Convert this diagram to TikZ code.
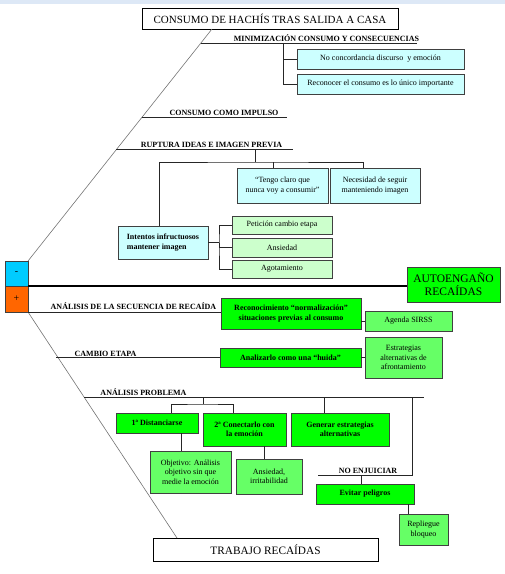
\documentclass[tikz,border=0pt]{standalone}
\usepackage{fontspec}
\setmainfont{Liberation Serif}
\usepackage{tikz}
\definecolor{paleblue}{RGB}{204,255,255}
\definecolor{palegreen}{RGB}{204,255,204}
\definecolor{midgreen}{RGB}{102,255,102}
\definecolor{brightgreen}{RGB}{0,255,0}
\definecolor{minusblue}{RGB}{0,204,255}
\definecolor{plusorange}{RGB}{255,102,0}
\definecolor{bandblue}{RGB}{221,232,246}
\usetikzlibrary{positioning, calc}
\tikzset{
    basebox/.style={draw=black!75, line width=0.8pt, align=center, inner sep=1pt, outer sep=0pt},
    titlebox/.style={basebox, draw=black, fill=white, font=\fontsize{11}{13}\selectfont},
    blbox/.style={basebox, fill=paleblue, font=\fontsize{8}{9.5}\selectfont},
    pgbox/.style={basebox, fill=palegreen, font=\fontsize{8}{9.5}\selectfont},
    mgbox/.style={basebox, fill=midgreen, font=\fontsize{8}{9.5}\selectfont},
    bgbox/.style={basebox, fill=brightgreen, font=\bfseries\fontsize{8}{9.5}\selectfont},
    signbox/.style={basebox, font=\fontsize{10}{11}\selectfont},
    hdlabel/.style={anchor=south, inner sep=1pt, font=\bfseries\fontsize{8}{9}\selectfont},
    spine/.style={draw=black!55, line width=0.6pt},
    branch/.style={draw=black!85, line width=0.75pt}
}

\begin{document}
\begin{tikzpicture}[x=1pt, y=-1pt]
  \useasboundingbox (0,0) rectangle (505,574);
  \fill[bandblue] (0,0) rectangle (505,4);

  % main boxes
  \node[titlebox, minimum width=256pt, minimum height=21pt] (title) at (270,18.5) {CONSUMO DE HACHÍS TRAS SALIDA A CASA};
  \node[titlebox, minimum width=225pt, minimum height=23pt, font=\fontsize{11.3}{13}\selectfont] (trabajo) at (265.5,549.5) {TRABAJO RECAÍDAS};
  \node[signbox, fill=minusblue, minimum width=23pt, minimum height=25pt] (minus) at (16.5,273.5) {-};
  \node[signbox, fill=plusorange, minimum width=23pt, minimum height=26pt] (plus) at (16.5,299) {+};
  \node[basebox, fill=brightgreen, minimum width=93pt, minimum height=35pt, font=\fontsize{11.5}{13}\selectfont] (autoeng) at (453.5,284.5) {AUTOENGAÑO\\RECAÍDAS};

  % upper side
  \node[blbox, minimum width=167pt, minimum height=20pt] (nocon) at (380.5,59) {No concordancia discurso~ y emoción};
  \node[blbox, minimum width=167pt, minimum height=20pt] (recon) at (380.5,84) {Reconocer el consumo es lo único importante};
  \node[blbox, minimum width=91pt, minimum height=35pt] (tengo) at (282.5,185.5) {“Tengo claro que\\nunca voy a consumir”};
  \node[blbox, minimum width=90pt, minimum height=35pt] (neces) at (375,185.5) {Necesidad de seguir\\manteniendo imagen};
  \node[blbox, minimum width=90pt, minimum height=33pt, align=left, font=\bfseries\fontsize{8}{9.5}\selectfont] (intentos) at (163,242.5) {Intentos infructuosos\\mantener imagen};
  \node[pgbox, minimum width=100pt, minimum height=18pt] (peticion) at (282,225) {Petición cambio etapa};
  \node[pgbox, minimum width=100pt, minimum height=19pt] (ansiedad) at (282,247.5) {Ansiedad};
  \node[pgbox, minimum width=100pt, minimum height=18pt] (agot) at (282,269) {Agotamiento};

  % lower side
  \node[bgbox, minimum width=140pt, minimum height=31pt] (reconoc) at (291,313.5) {Reconocimiento “normalización”\\situaciones previas al consumo};
  \node[mgbox, minimum width=87pt, minimum height=20pt] (agenda) at (408.5,321) {Agenda SIRSS};
  \node[bgbox, minimum width=141pt, minimum height=19pt] (analiz) at (290.5,357.5) {Analizarlo como una “huida”};
  \node[mgbox, minimum width=77pt, minimum height=41pt] (estrat) at (403.5,357.5) {Estrategias\\alternativas de\\afrontamiento};
  \node[bgbox, minimum width=82pt, minimum height=20pt] (dist) at (157,423) {1ª Distanciarse};
  \node[bgbox, minimum width=83pt, minimum height=33pt] (conect) at (244.5,429.5) {2ª Conectarlo con\\la emoción};
  \node[bgbox, minimum width=98pt, minimum height=33pt] (generar) at (340,429.5) {Generar estrategias\\alternativas};
  \node[mgbox, minimum width=81pt, minimum height=42pt] (objetivo) at (190.5,472) {Objetivo: Análisis\\objetivo sin que\\medie la emoción};
  \node[mgbox, minimum width=66pt, minimum height=35pt] (ansirr) at (269,476.5) {Ansiedad,\\irritabilidad};
  \node[bgbox, minimum width=98pt, minimum height=20pt] (evitar) at (365,494) {Evitar peligros};
  \node[mgbox, minimum width=49pt, minimum height=31pt] (repliegue) at (423.5,529.5) {Repliegue\\bloqueo};

  % spines
  \draw[spine] ([xshift=-58pt]title.south) -- (minus.north east);
  \draw[spine] (plus.south east) -- ([xshift=24pt]trabajo.north west);
  \draw[line width=1.5pt] (minus.south east) -- (minus.south east -| autoeng.west);

  % upper branches
  \coordinate (minL) at (200.8,43);
  \coordinate (minR) at (417,43);
  \coordinate (minfork) at (283,43);
  \draw[branch] (minL) -- (minR);
  \node[hdlabel] (minlbl) at (326.5,43) {MINIMIZACIÓN CONSUMO Y CONSECUENCIAS};
  \draw[branch] (minfork) |- (nocon.west);
  \draw[branch] (minfork) |- (recon.west);

  \coordinate (impL) at (141.8,117);
  \coordinate (impR) at (287,117);
  \draw[branch] (impL) -- (impR);
  \node[hdlabel] (implbl) at (224,117) {CONSUMO COMO IMPULSO};

  \coordinate (rupL) at (116,149);
  \coordinate (rupR) at (293,149);
  \coordinate (rupfork) at (255,149);
  \coordinate (rupbar) at (255,162);
  \draw[branch] (rupL) -- (rupR);
  \node[hdlabel] (ruplbl) at (211.5,149) {RUPTURA IDEAS E IMAGEN PREVIA};
  \draw[branch] (rupfork) -- (rupbar);
  \draw[branch] ([xshift=-4pt]intentos.north) |- (rupbar) -| ([xshift=-12pt]neces.north);
  \draw[branch] ([xshift=-9.5pt]tengo.north) -- ([xshift=-9.5pt]tengo.north |- rupbar);

  \coordinate (intbar) at (219,242.5);
  \draw[branch] (intentos.east) -- (intbar);
  \draw[branch] (peticion.west) -| (intbar) |- (agot.west);
  \draw[branch] (intbar) |- (ansiedad.west);

  % lower branches
  \draw[branch] (plus.south east) -- (plus.south east -| reconoc.west);
  \node[hdlabel] (seclbl) at (133.5,311) {ANÁLISIS DE LA SECUENCIA DE RECAÍDA};
  \draw[branch] (agenda.west -| reconoc.east) -- (agenda.west);

  \coordinate (camL) at (56,357.5);
  \draw[branch] (camL) -- (analiz.west);
  \node[hdlabel] (camlbl) at (105.5,357.5) {CAMBIO ETAPA};
  \draw[branch] (analiz.east) -- (estrat.west);

  \coordinate (probL) at (84,397);
  \coordinate (probR) at (424,397);
  \coordinate (probfork) at (203,397);
  \coordinate (probbar) at (203,404);
  \draw[branch] (probL) -- (probR);
  \node[hdlabel] (problbl) at (143.5,397) {ANÁLISIS PROBLEMA};
  \draw[branch] (probfork) -- (probbar);
  \draw[branch] ([xshift=14pt]dist.north) |- (probbar) -| ([xshift=-11.5pt]conect.north);
  \draw[branch] ([xshift=-16pt]generar.north) -- ([xshift=-16pt]generar.north |- probL);
  \draw[branch] ([xshift=-9.5pt]objetivo.north) -- ([xshift=-9.5pt]objetivo.north |- dist.south);
  \draw[branch] ([xshift=-5pt]ansirr.north) -- ([xshift=-5pt]ansirr.north |- conect.south);

  \coordinate (enjL) at (318,475);
  \coordinate (enjR) at (412,475);
  \draw[branch] (enjL) -- (enjR) -- (enjR |- probL);
  \node[hdlabel] (enjlbl) at (368,475) {NO ENJUICIAR};
  \draw[branch] ([xshift=-4pt]evitar.north) -- ([xshift=-4pt]evitar.north |- enjL);
  \draw[branch] ([xshift=-15.5pt]repliegue.north) -- ([xshift=-15.5pt]repliegue.north |- evitar.south);
\end{tikzpicture}
\end{document}
